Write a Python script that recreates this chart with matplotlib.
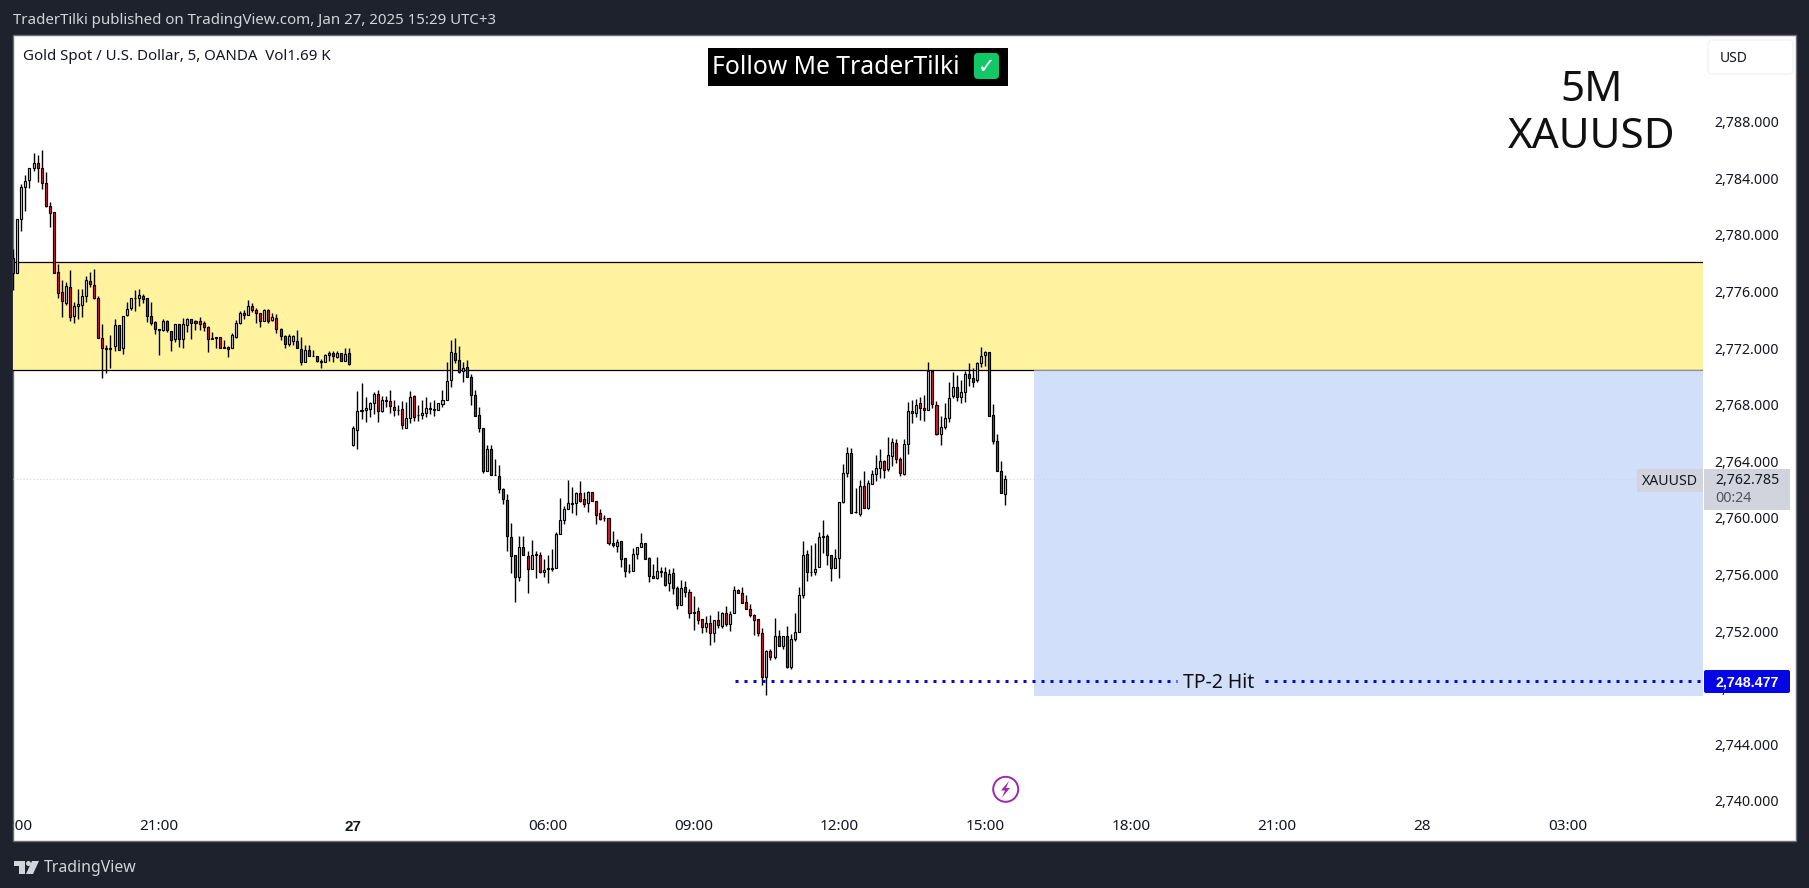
import matplotlib
matplotlib.use('Agg')
import matplotlib.pyplot as plt
import numpy as np
import pandas as pd
from matplotlib.patches import Rectangle, FancyBboxPatch, Circle, Polygon

W, H = 1809, 888
BG = '#1e222d'
FONT = ['Noto Sans', 'DejaVu Sans']
plt.rcParams['font.family'] = FONT

# candles, one bar every 5 minutes
opens = [
    2778.34, 2777.33, 2781.10, 2783.36, 2783.85, 2784.70, 2785.05, 2784.70, 2783.64, 2782.02,
    2781.59, 2777.35, 2775.94, 2775.21, 2776.29, 2774.29, 2774.95, 2775.02, 2775.66, 2776.72,
    2776.43, 2775.51, 2772.69, 2771.98, 2771.93, 2772.12, 2773.61, 2771.98, 2774.31, 2774.81,
    2775.51, 2775.51, 2775.66, 2775.51, 2774.24, 2773.82, 2773.25, 2773.25, 2773.89, 2773.18,
    2772.62, 2773.68, 2772.62, 2773.61, 2774.03, 2773.89, 2773.89, 2773.75, 2773.46, 2772.62,
    2772.76, 2772.76, 2771.98, 2772.05, 2771.98, 2772.76, 2773.75, 2774.45, 2774.31, 2774.95,
    2774.67, 2774.45, 2773.89, 2774.67, 2773.96, 2774.10, 2773.32, 2772.83, 2772.26, 2772.47,
    2772.47, 2771.91, 2770.99, 2771.84, 2771.43, 2771.41, 2771.06, 2770.99, 2771.49, 2771.63,
    2771.39, 2771.63, 2771.06, 2771.63, 2765.13, 2766.19, 2767.59, 2767.61, 2767.68, 2768.10,
    2768.74, 2767.54, 2768.29, 2768.24, 2767.82, 2767.65, 2767.68, 2766.33, 2767.04, 2768.60,
    2767.27, 2767.25, 2767.39, 2767.73, 2767.68, 2767.61, 2768.03, 2768.31, 2769.73, 2771.63,
    2771.14, 2770.36, 2770.64, 2769.94, 2768.67, 2767.25, 2766.33, 2763.30, 2764.85, 2763.03,
    2762.94, 2762.02, 2761.25, 2758.63, 2757.36, 2755.80, 2757.92, 2757.29, 2756.37, 2757.41,
    2757.36, 2756.16, 2756.37, 2756.42, 2756.44, 2758.84, 2759.83, 2760.61, 2761.01, 2761.03,
    2761.74, 2761.32, 2761.03, 2761.81, 2761.17, 2760.33, 2759.99, 2759.97, 2758.21, 2757.99,
    2758.35, 2757.15, 2756.25, 2756.23, 2757.43, 2757.92, 2758.21, 2757.15, 2755.87, 2755.73,
    2756.20, 2756.15, 2755.37, 2756.08, 2755.02, 2753.82, 2755.09, 2754.74, 2753.32, 2753.39,
    2752.83, 2752.26, 2752.55, 2751.84, 2752.76, 2752.33, 2753.25, 2752.48, 2753.25, 2754.88,
    2754.67, 2754.03, 2753.54, 2753.11, 2752.83, 2751.84, 2748.73, 2750.57, 2750.14, 2751.63,
    2750.92, 2751.63, 2749.44, 2751.42, 2751.91, 2754.53, 2757.42, 2756.17, 2756.15, 2756.50,
    2758.68, 2758.70, 2757.35, 2756.43, 2757.14, 2761.10, 2763.15, 2764.56, 2760.41, 2760.25,
    2762.23, 2760.67, 2762.37, 2763.08, 2763.50, 2764.00, 2763.43, 2764.35, 2765.27, 2764.14,
    2763.08, 2765.20, 2767.53, 2767.39, 2768.09, 2767.74, 2767.60, 2770.38, 2767.95, 2765.90,
    2766.40, 2767.03, 2768.59, 2769.22, 2768.52, 2768.87, 2770.14, 2769.86, 2769.72, 2770.92,
    2771.49, 2771.70, 2767.25, 2765.41, 2763.29, 2761.66,
]
highs = [
    2779.00, 2781.10, 2783.57, 2784.21, 2784.70, 2785.76, 2785.62, 2786.00, 2784.42, 2782.30,
    2781.59, 2777.92, 2776.79, 2776.64, 2777.49, 2775.23, 2776.15, 2776.15, 2777.07, 2777.35,
    2777.56, 2775.66, 2773.68, 2772.19, 2772.90, 2774.03, 2773.61, 2774.24, 2775.23, 2775.51,
    2776.10, 2776.15, 2775.82, 2775.51, 2775.23, 2773.89, 2773.32, 2774.03, 2773.96, 2773.18,
    2773.68, 2773.68, 2774.10, 2774.10, 2774.03, 2773.96, 2774.17, 2773.89, 2773.54, 2773.11,
    2772.76, 2772.76, 2772.55, 2772.12, 2773.04, 2773.96, 2774.59, 2774.67, 2775.37, 2775.16,
    2774.81, 2774.45, 2774.74, 2774.74, 2774.48, 2774.38, 2773.39, 2772.90, 2772.97, 2772.90,
    2773.25, 2772.76, 2772.19, 2772.19, 2771.84, 2771.41, 2771.20, 2771.56, 2771.82, 2771.82,
    2771.77, 2771.63, 2771.98, 2771.98, 2766.48, 2768.97, 2769.54, 2768.52, 2768.17, 2768.88,
    2769.02, 2768.60, 2768.60, 2769.02, 2768.31, 2767.96, 2768.24, 2768.17, 2768.95, 2768.67,
    2767.96, 2768.31, 2768.52, 2768.17, 2768.31, 2768.10, 2769.02, 2771.00, 2772.55, 2772.69,
    2772.13, 2771.00, 2771.14, 2770.15, 2769.02, 2767.82, 2766.33, 2765.13, 2765.13, 2764.14,
    2763.72, 2762.09, 2761.67, 2759.62, 2757.36, 2758.70, 2758.70, 2757.64, 2758.42, 2757.64,
    2757.57, 2757.08, 2757.36, 2757.78, 2758.98, 2761.39, 2760.82, 2762.66, 2762.16, 2761.81,
    2762.59, 2761.81, 2761.88, 2761.81, 2761.17, 2760.61, 2760.19, 2759.97, 2759.05, 2758.49,
    2758.35, 2757.15, 2756.72, 2757.85, 2757.92, 2758.91, 2758.21, 2757.22, 2756.72, 2757.22,
    2756.50, 2756.50, 2756.36, 2756.43, 2755.16, 2755.59, 2755.51, 2754.95, 2754.45, 2753.68,
    2752.83, 2753.04, 2753.11, 2752.76, 2753.39, 2753.32, 2753.75, 2753.39, 2755.16, 2754.95,
    2755.09, 2754.53, 2753.89, 2753.18, 2752.83, 2752.19, 2750.64, 2750.71, 2752.90, 2752.05,
    2751.63, 2752.33, 2751.77, 2753.25, 2755.09, 2758.34, 2757.71, 2758.06, 2758.20, 2758.98,
    2759.83, 2758.84, 2757.35, 2757.78, 2761.10, 2763.78, 2764.98, 2764.91, 2762.09, 2762.65,
    2763.29, 2762.65, 2763.36, 2764.42, 2764.84, 2764.07, 2765.69, 2765.62, 2765.55, 2764.28,
    2765.55, 2768.16, 2768.31, 2768.38, 2768.52, 2768.66, 2770.99, 2770.38, 2768.24, 2767.18,
    2768.09, 2769.58, 2770.28, 2770.07, 2769.72, 2770.36, 2770.92, 2770.57, 2770.99, 2772.05,
    2771.77, 2771.70, 2768.02, 2765.90, 2764.00, 2763.01,
]
lows = [
    2776.10, 2777.33, 2780.30, 2781.71, 2783.33, 2784.54, 2783.76, 2783.26, 2781.94, 2780.58,
    2777.28, 2775.51, 2774.22, 2775.07, 2773.94, 2773.79, 2774.08, 2774.22, 2775.28, 2776.29,
    2775.44, 2772.69, 2769.91, 2770.21, 2770.61, 2771.77, 2771.84, 2771.56, 2774.24, 2774.67,
    2774.59, 2774.95, 2775.16, 2773.82, 2773.61, 2772.97, 2771.49, 2773.18, 2773.11, 2771.82,
    2772.40, 2772.05, 2771.98, 2773.11, 2772.66, 2773.25, 2773.25, 2773.18, 2771.74, 2772.62,
    2771.98, 2771.98, 2771.98, 2771.39, 2771.98, 2772.69, 2773.68, 2774.03, 2774.31, 2774.52,
    2773.75, 2773.51, 2773.89, 2773.75, 2773.89, 2773.04, 2772.55, 2771.98, 2772.12, 2772.19,
    2771.98, 2770.78, 2770.99, 2771.41, 2771.41, 2770.99, 2770.61, 2770.99, 2771.06, 2770.99,
    2771.27, 2771.06, 2771.06, 2770.78, 2765.06, 2764.85, 2766.97, 2766.76, 2767.11, 2767.32,
    2766.76, 2767.46, 2767.82, 2767.39, 2767.18, 2767.25, 2766.26, 2766.33, 2766.69, 2766.83,
    2766.83, 2766.97, 2767.11, 2767.32, 2767.18, 2767.61, 2767.82, 2768.31, 2769.23, 2770.93,
    2770.22, 2769.58, 2769.94, 2767.96, 2767.18, 2766.05, 2763.15, 2763.30, 2763.01, 2763.01,
    2761.74, 2760.96, 2757.64, 2756.09, 2754.04, 2755.52, 2757.36, 2754.67, 2756.37, 2755.73,
    2756.09, 2755.80, 2755.38, 2756.23, 2756.44, 2758.84, 2759.55, 2760.61, 2760.37, 2760.19,
    2761.10, 2760.75, 2760.40, 2761.17, 2759.55, 2759.83, 2759.76, 2758.07, 2757.92, 2757.57,
    2756.51, 2755.80, 2756.09, 2756.23, 2757.08, 2757.92, 2757.08, 2755.45, 2755.73, 2755.66,
    2755.80, 2755.18, 2754.81, 2754.60, 2753.54, 2753.82, 2754.38, 2752.90, 2752.05, 2752.48,
    2751.84, 2751.91, 2750.99, 2751.20, 2752.19, 2752.19, 2752.33, 2751.98, 2753.25, 2754.67,
    2753.96, 2753.54, 2752.97, 2751.70, 2751.63, 2748.16, 2747.46, 2749.98, 2750.00, 2750.92,
    2750.71, 2749.37, 2749.30, 2751.27, 2751.91, 2754.31, 2755.51, 2755.87, 2755.94, 2756.50,
    2757.49, 2756.65, 2755.51, 2756.43, 2755.73, 2761.03, 2762.86, 2760.32, 2760.32, 2760.11,
    2760.67, 2760.60, 2762.37, 2762.58, 2762.79, 2762.79, 2763.29, 2763.64, 2763.85, 2762.94,
    2763.01, 2764.49, 2766.68, 2767.10, 2766.89, 2766.82, 2767.60, 2767.74, 2765.83, 2765.13,
    2766.26, 2766.75, 2768.45, 2768.24, 2768.09, 2768.16, 2769.30, 2769.22, 2769.58, 2770.64,
    2770.71, 2767.18, 2765.20, 2763.29, 2761.73, 2760.89,
]
closes = [
    2777.28, 2781.10, 2783.36, 2783.83, 2784.70, 2785.05, 2784.70, 2783.64, 2782.02, 2781.52,
    2777.28, 2775.87, 2775.30, 2776.36, 2774.22, 2774.95, 2775.09, 2775.66, 2776.79, 2776.50,
    2775.51, 2772.69, 2771.98, 2771.96, 2771.98, 2773.61, 2771.84, 2774.24, 2774.74, 2775.51,
    2775.53, 2775.73, 2775.44, 2774.24, 2773.75, 2773.32, 2773.32, 2773.89, 2773.25, 2772.55,
    2773.68, 2772.62, 2773.68, 2774.03, 2773.75, 2773.75, 2773.68, 2773.46, 2772.62, 2772.69,
    2772.74, 2771.98, 2772.05, 2771.91, 2772.90, 2773.75, 2774.45, 2774.31, 2774.95, 2774.67,
    2774.45, 2773.89, 2774.67, 2773.89, 2774.17, 2773.32, 2772.83, 2772.26, 2772.83, 2772.83,
    2771.98, 2770.99, 2771.84, 2771.41, 2771.41, 2771.06, 2771.01, 2771.49, 2771.63, 2771.41,
    2771.63, 2771.06, 2771.56, 2770.85, 2766.33, 2767.54, 2767.61, 2767.75, 2768.10, 2768.74,
    2767.54, 2768.31, 2768.31, 2767.89, 2767.61, 2767.63, 2766.55, 2767.04, 2768.52, 2767.11,
    2767.25, 2767.39, 2767.75, 2767.75, 2767.61, 2768.10, 2768.31, 2769.66, 2771.70, 2771.14,
    2770.29, 2770.57, 2769.94, 2768.67, 2767.18, 2766.33, 2763.30, 2764.85, 2763.01, 2763.01,
    2762.02, 2761.32, 2758.70, 2757.29, 2755.80, 2757.92, 2757.36, 2756.37, 2757.36, 2757.43,
    2756.16, 2756.30, 2756.44, 2756.44, 2758.84, 2759.83, 2760.61, 2761.03, 2761.03, 2761.74,
    2761.17, 2760.96, 2761.81, 2761.17, 2760.19, 2759.90, 2759.97, 2758.21, 2758.07, 2758.28,
    2757.08, 2756.23, 2756.23, 2757.43, 2757.92, 2758.21, 2757.08, 2755.87, 2755.73, 2756.23,
    2756.22, 2755.26, 2756.01, 2755.02, 2753.82, 2755.02, 2754.74, 2753.25, 2753.30, 2752.76,
    2752.26, 2752.55, 2751.84, 2752.76, 2752.40, 2753.25, 2752.48, 2753.18, 2754.88, 2754.67,
    2753.96, 2753.54, 2753.11, 2752.76, 2751.84, 2748.73, 2750.57, 2750.14, 2751.63, 2750.92,
    2751.63, 2749.44, 2751.42, 2751.91, 2754.53, 2757.35, 2756.15, 2756.15, 2756.36, 2758.62,
    2758.70, 2757.35, 2756.43, 2757.14, 2761.10, 2763.15, 2764.56, 2760.32, 2760.39, 2762.23,
    2760.67, 2762.44, 2763.08, 2763.50, 2764.00, 2763.36, 2764.42, 2765.34, 2764.14, 2763.15,
    2765.20, 2767.53, 2767.39, 2767.95, 2767.74, 2767.60, 2770.38, 2768.02, 2765.90, 2766.40,
    2767.03, 2768.45, 2769.22, 2768.52, 2768.87, 2770.14, 2769.86, 2769.58, 2770.92, 2771.42,
    2771.70, 2767.18, 2765.41, 2763.29, 2761.73, 2762.785,
]

price_ticks = [2788, 2784, 2780, 2776, 2772, 2768, 2764, 2760, 2756, 2752, 2748, 2744, 2740]
time_ticks = [0, 36, 84, 132, 168, 204, 240, 276, 312, 348, 384]
time_labels = ['18:00', '21:00', '27', '06:00', '09:00', '12:00', '15:00', '18:00', '21:00', '28', '03:00']
bold_labels = ['27']

zone_top, zone_bottom = 2778.06, 2770.43
target_top, target_bottom = 2770.47, 2747.43
target_start = 252
last_price = 2762.785
tp_price = 2748.477
tp_start, tp_gap_start, tp_gap_end = 178.2, 287.4, 309.1
tp_text_x = 297.6

df = pd.DataFrame({'open': opens, 'high': highs, 'low': lows, 'close': closes})
df['x'] = np.arange(len(df))
up = df[df['close'] >= df['open']]
down = df[df['close'] < df['open']]

fig = plt.figure(figsize=(W / 100, H / 100), dpi=100, facecolor=BG)


def px_axes(zorder):
    a = fig.add_axes([0, 0, 1, 1], zorder=zorder)
    a.set_xlim(0, W)
    a.set_ylim(H, 0)
    a.axis('off')
    return a


# pane background, chart on top of it, labels and boxes above that
back = px_axes(0)
back.add_patch(Rectangle((13, 35), 1783, 806, fc='white', ec='#6a6d78', lw=1))

ax = fig.add_axes([13 / W, (H - 841) / H, 1690 / W, 806 / H], zorder=1)
ax.patch.set_alpha(0)
for s in ax.spines.values():
    s.set_visible(False)
ax.set_xlim(-0.07, 417.3)
ax.set_ylim(2737.17, 2794.127)

ax.axhspan(zone_bottom, zone_top, color='#fff3a0', lw=0, zorder=1)
ax.axhline(zone_top, color='black', lw=0.9, zorder=2)
ax.axhline(zone_bottom, color='black', lw=0.9, zorder=2)
ax.add_patch(Rectangle((target_start, target_bottom), 417.3 - target_start, target_top - target_bottom,
                       fc='#d1dffb', ec='none', zorder=2.5))
ax.plot([target_start, 417.3], [target_top, target_top], color='#8d8f94', lw=0.8, zorder=2.6)
ax.axhline(last_price, color='#cfd2da', lw=0.8, ls=(0, (1, 2)), zorder=2.7)

ax.vlines(df['x'], df['low'], df['high'], color='black', lw=1.0, zorder=3)
ax.bar(up['x'], up['close'] - up['open'], bottom=up['open'], width=0.5,
       fc='#d1d4dc', ec='black', lw=0.85, zorder=4)
ax.bar(down['x'], down['close'] - down['open'], bottom=down['open'], width=0.5,
       fc='#e31c2d', ec='black', lw=0.85, zorder=4)

dots = (0, (1, 2))
for x0, x1 in [(tp_start, tp_gap_start), (tp_gap_end, 417.3)]:
    ax.plot([x0, x1], [tp_price, tp_price], color='#0505e6', lw=2.16, ls=dots,
            dash_capstyle='butt', zorder=5)
ax.text(tp_text_x, tp_price - 0.15, 'TP-2 Hit', ha='center', va='center', fontsize=14, color='#111111', zorder=6)

ax.yaxis.tick_right()
ax.set_yticks(price_ticks)
ax.set_yticklabels([f'{t:,.3f}' for t in price_ticks])
ax.tick_params(axis='y', length=0, pad=8.5, labelsize=10.2, labelcolor='#131722')
ax.set_xticks([])
for pos, lab in zip(time_ticks, time_labels):
    if lab in bold_labels:
        ax.text(pos, 0.0175, lab, transform=ax.get_xaxis_transform(), ha='center', va='center', clip_on=True,
                fontsize=11, color='#131722', family='Liberation Sans', fontweight='bold', zorder=6)
    else:
        ax.text(pos, 0.0175, lab, transform=ax.get_xaxis_transform(), ha='center', va='center', clip_on=True,
                fontsize=11, color='#131722', zorder=6)

top = px_axes(2)
top.patch.set_alpha(0)

# header and footer
top.text(13, 21, 'TraderTilki published on TradingView.com, Jan 27, 2025 15:29 UTC+3', va='center',
         fontsize=10.85, color='#d1d4dc')
top.text(23, 57, 'Gold Spot / U.S. Dollar, 5, OANDA  Vol1.69 K', va='center', fontsize=10.85, color='#131722')
top.add_patch(Polygon([(14, 861), (25, 861), (25, 874), (19, 874), (19, 866), (14, 866)], fc='#d1d4dc', ec='none'))
top.add_patch(Circle((28.5, 863.5), 2.5, fc='#d1d4dc', ec='none'))
top.add_patch(Polygon([(32, 861), (39, 861), (33, 874), (26, 874)], fc='#d1d4dc', ec='none'))
top.text(43.5, 868, 'TradingView', va='center', fontsize=11.4, color='#d1d4dc')

# banner
top.add_patch(Rectangle((708, 48), 300, 38, fc='black', ec='none'))
top.text(712, 68, 'Follow Me TraderTilki', va='center', fontsize=17.8, color='white')
top.add_patch(FancyBboxPatch((977, 56), 19, 20, boxstyle='round,pad=3,rounding_size=4', fc='#12c766', ec='none'))
top.text(986.5, 67, '\u2713', ha='center', va='center', fontsize=15, color='white', family='DejaVu Sans',
         fontweight='bold')

top.text(1592, 90, '5M', ha='center', va='center', fontsize=30.4, color='#111111')
top.text(1592, 137, 'XAUUSD', ha='center', va='center', fontsize=30.4, color='#111111')

# price scale widgets
top.add_patch(FancyBboxPatch((1710, 42), 81, 30, boxstyle='round,pad=2,rounding_size=4', fc='white',
                             ec='#f0f3fa', lw=1))
top.text(1720, 58, 'USD', va='center', fontsize=10, color='#131722')

top.add_patch(Rectangle((1637, 469), 66, 23, fc='#d1d4dc', ec='none'))
top.text(1642, 481, 'XAUUSD', va='center', fontsize=10.2, color='#131722')
top.add_patch(Rectangle((1704, 469), 86, 41, fc='#d1d4dc', ec='none'))
top.text(1715, 480.5, f'{last_price:,.3f}', va='center', fontsize=10.2, color='#131722')
top.text(1715, 498.5, '00:24', va='center', fontsize=10.2, color='#50535e')

top.add_patch(FancyBboxPatch((1705, 671), 84, 21, boxstyle='round,pad=1,rounding_size=2', fc='#0505e6', ec='none'))
top.text(1715, 682, f'{tp_price:,.3f}', va='center', fontsize=10.2, color='white', family='Liberation Sans',
         fontweight='bold')

# lightning marker
top.add_patch(Circle((1005.7, 789.3), 12.5, fc='white', ec='#9c27b0', lw=1.4))
top.add_patch(Polygon([(1009, 781), (1001, 790.5), (1005, 790.5), (1002, 797.5), (1010, 788), (1006, 788)],
                      fc='#9c27b0', ec='none'))

fig.savefig('out.png', dpi=100, facecolor=BG)
